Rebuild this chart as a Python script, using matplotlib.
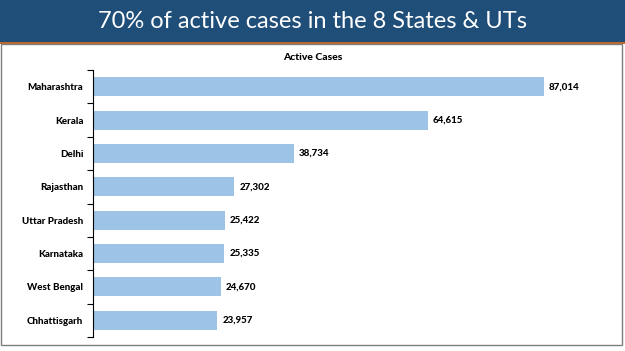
import matplotlib
matplotlib.use("Agg")
import matplotlib.pyplot as plt
from matplotlib.patches import Rectangle

states = ["Maharashtra", "Kerala", "Delhi", "Rajasthan", "Uttar Pradesh",
          "Karnataka", "West Bengal", "Chhattisgarh"]
active_cases = [87014, 64615, 38734, 27302, 25422, 25335, 24670, 23957]

W, H = 625, 351
fig = plt.figure(figsize=(W / 100, H / 100), dpi=100)
fig.patch.set_facecolor("white")

def fx(px):
    return px / W

def fy(py):
    return 1 - py / H

BOLD = 900

# Banner
fig.add_artist(Rectangle((0, fy(42)), 1, 1 - fy(42), transform=fig.transFigure,
                         facecolor="#1F4E79", edgecolor="none", zorder=0))
fig.add_artist(Rectangle((0, fy(44)), 1, fy(42) - fy(44), transform=fig.transFigure,
                         facecolor="#C0672A", edgecolor="none", zorder=0))
fig.text(0.5, fy(21), "70% of active cases in the 8 States & UTs", color="white",
         ha="center", va="center", fontsize=17, family="Lato")

# Panel border
fig.add_artist(Rectangle((fx(1), fy(345)), fx(622) - fx(1), fy(44) - fy(345),
                         transform=fig.transFigure, facecolor="none",
                         edgecolor="#7F7F7F", linewidth=1.0, zorder=1))

fig.text(fx(313), fy(58), "Active Cases", ha="center", va="center",
         fontsize=7.5, fontweight=BOLD, family="Lato")

left, right = 93, 611
top, bottom = 70, 337
ax = fig.add_axes([fx(left), fy(bottom), fx(right) - fx(left), fy(top) - fy(bottom)])
ax.set_facecolor("none")
y = list(range(len(states)))
ax.barh(y, active_cases, height=0.57, color="#9DC3E6", edgecolor="none")
ax.set_xlim(0, 100000)
ax.set_ylim(len(states) - 0.5, -0.5)

for yi, v in zip(y, active_cases):
    ax.text(v + 1000, yi, f"{v:,}", va="center", ha="left", fontsize=7,
            fontweight=BOLD, family="Lato")

ax.set_yticks([i - 0.5 for i in range(len(states) + 1)], minor=False)
ax.set_yticklabels([])
ax.set_yticks(y, minor=True)
ax.set_yticklabels(states, minor=True, fontsize=7, fontweight=BOLD, family="Lato")
ax.tick_params(axis="y", which="major", length=4, width=0.8, color="black")
ax.tick_params(axis="y", which="minor", length=0, pad=7)
ax.set_xticks([])
for s in ["top", "right", "bottom"]:
    ax.spines[s].set_visible(False)
ax.spines["left"].set_linewidth(0.8)

fig.savefig("out.png", dpi=100)
